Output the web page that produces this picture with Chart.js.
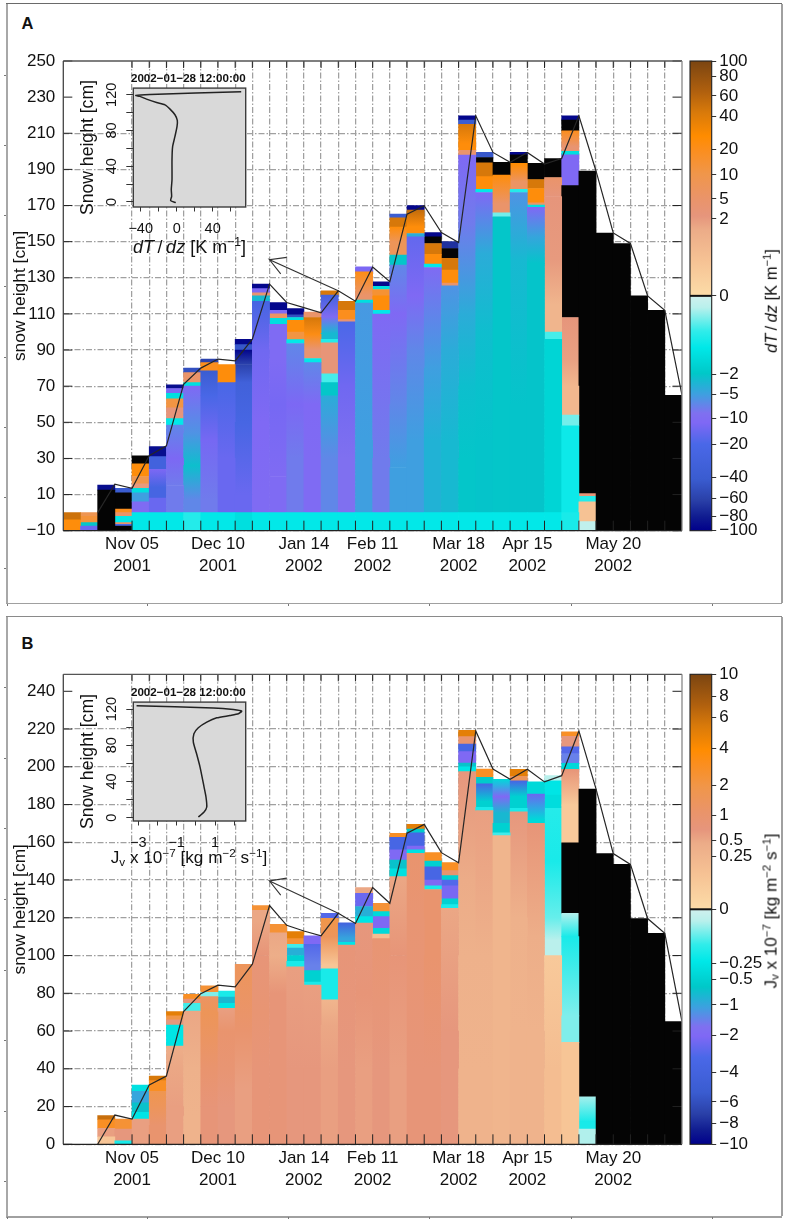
<!DOCTYPE html>
<html><head><meta charset="utf-8">
<style>
html,body{margin:0;padding:0;background:#fff;width:785px;height:1222px;overflow:hidden}
body{position:relative;font-family:"Liberation Sans",Arial,sans-serif;color:#111}
canvas{position:absolute}
.t{position:absolute;white-space:nowrap;line-height:1}
.t sup{font-size:.68em;vertical-align:.55em;line-height:0}
.t sub{font-size:.68em;vertical-align:-.2em;line-height:0}
.r{position:absolute;background:#999}
</style>
<script src="https://cdn.jsdelivr.net/npm/chart.js@4"></script>
</head><body>
<script>
// ---------- shared axis data ----------
const edgeLabelIndex = [4, 9, 14, 18, 23, 27, 32];
const edgeLabels = [["Nov 05","2001"],["Dec 10","2001"],["Jan 14","2002"],["Feb 11","2002"],["Mar 18","2002"],["Apr 15","2002"],["May 20","2002"]];
const yTicksA = [-10,10,30,50,70,90,110,130,150,170,190,210,230,250];
const yTicksB = [0,20,40,60,80,100,120,140,160,180,200,220,240];

// ---------- snow height along the week edges: [edge, height] ----------
const snowLineA = [[2,0],[3,15.7],[4,13.5],[5,31.5],[6,37],[7,71],[8,80],[9,85],[10,84],[11,96],[12,126.5],[13,116.3],[14,113.5],[15,110.6],[16,122.8],[17,117],[18,136],[19,127.8],[20,165.2],[21,169.9],[22,155],[23,149.5],[24,219.7],[25,199.4],[26,193.9],[27,199.4],[28,193],[29,196],[30,219.7],[31,189],[32,154.8],[33,149],[34,120],[35,112],[36,65]];
const snowLineB = [[2,0],[3,15.5],[4,13.4],[5,31.4],[6,36.2],[7,70.3],[8,79.8],[9,84.3],[10,83.4],[11,95.4],[12,126.5],[13,116],[14,113],[15,110.5],[16,122.4],[17,117],[18,136],[19,127.7],[20,164.8],[21,169.5],[22,154.5],[23,149.2],[24,219],[25,198.8],[26,193.4],[27,198.7],[28,192],[29,195.3],[30,219],[31,188.2],[32,154],[33,148.3],[34,119.6],[35,111.8],[36,65]];
const arrowA = [[13,141.3],[12,140],[12.65,132.2],[12,140],[16,122.8]];
const arrowB = [[13,141],[12,139.5],[12.65,132],[12,139.5],[16,122.4]];

// ---------- weekly profiles: each layer is [top height, value]; null = no value (black) ----------
const cellsA = [
 [[-4,25],[0,50]],
 [[-7.5,-15],[-5.5,-2],[-2,14],[0,9]],
 [[12.5,null],[15.3,-90]],
 [[-7.5,null],[-6.5,-20],[-5.5,5],[-2,-1.3],[0,5],[2,20],[11,null],[13.5,-40]],
 [[0,-1.3],[6,-10],[11,-5],[13.4,-1.5],[16,2],[20,10],[27,25],[31.5,null]],
 [[0,-1.3],[8,-15],[14,-25],[24,-12],[31,-30],[36.5,-90]],
 [[0,-1.3],[15,-8],[30,-12],[48.4,-7],[52,-1.3],[58,2.5],[63,12],[66,-1.5],[68.7,-12],[70.7,-90]],
 [[0,-1],[7,-7],[26,-2.5],[44,-6],[70,-11],[72,-1.5],[77.5,5],[80,-50]],
 [[0,-1.3],[7,-8],[40,-13],[65,-22],[78.5,-40],[83,20],[85,-60]],
 [[0,-1.3],[30,-15],[72,-22],[82,25]],
 [[0,-1.5],[10,-15],[50,-24],[72,-32],[82,-60],[90,-95],[93,-45],[96,-95]],
 [[0,-1.3],[10,-10],[50,-11],[90,-14],[117,-25],[120,-3],[121.7,4],[124,-12],[126.5,-95]],
 [[0,-1.3],[20,-10],[60,-13],[85,-10],[104.3,-10],[107.5,-1.5],[110,6],[112,-10],[116.3,-95]],
 [[0,-1.3],[30,-8],[60,-12],[93.6,-7],[95.8,-1.3],[100,12],[106.5,25],[108,-1.5],[109.5,-50],[113,-95]],
 [[0,-1.3],[30,-10],[60,-11],[83,-7],[85.3,-1.3],[90.4,4],[98.7,22],[108,45],[111,5]],
 [[0,-1.3],[30,-7],[64.6,-4],[72,-2],[76.8,-0.8],[94,3],[96,-1],[99.2,-3],[108.4,-10],[120.4,-30],[122.8,45]],
 [[0,-1.3],[30,-9],[70,-14],[105.6,-20],[106.8,4],[112,20],[117,45]],
 [[0,-1.3],[40,-5],[116,-5.5],[117.7,-1.5],[120.4,5],[133.3,22],[136,-12]],
 [[0,-1.3],[30,-8],[109.9,-11],[112,-1.3],[120,25],[123.5,15],[125.3,-1.5],[127.8,-95]],
 [[0,-1.3],[25,-5],[60,-7],[110,-11],[137,-7],[142.5,-2],[150,8],[158,25],[163.2,45],[165.2,-40]],
 [[0,-1.3],[40,-5],[90,-7],[120,-11],[152.7,-16],[154.5,-4],[158.2,25],[167.5,55],[169.9,-95]],
 [[0,-1.3],[40,-3.5],[80,-5],[135.7,-10],[137.6,-1.3],[143,25],[149,45],[152.7,null],[155,-95]],
 [[0,-1.3],[40,-3],[90,-4],[125.5,-6],[127,5],[134.2,25],[140.7,45],[146.2,null],[150,-70]],
 [[0,-1.3],[30,-2],[70,-2.5],[110,-4],[160,-8],[197.9,-11],[200.6,5],[204.3,25],[215,45],[217.3,-40],[219.7,-95]],
 [[0,-1.3],[40,-2.1],[100,-2.6],[143.5,-4],[177.2,-11],[179,-1.3],[186,25],[193.7,45],[196.6,null],[199.4,-45]],
 [[0,-1.3],[163.8,-2],[166,-0.6],[171,5],[186.8,25],[193.9,null]],
 [[0,-1.3],[60,-2.1],[139.8,-3],[177.2,-6],[179,-1],[183,6],[193.3,28],[198,null],[199.4,-95]],
 [[0,-1.3],[138,-2.1],[152.7,-4.5],[169,-11],[170.2,-1.5],[171.5,5],[179.4,25],[184.4,45],[193.3,null]],
 [[0,-1.3],[96,-1.7],[100,-0.8],[115,1.4],[140,2],[175,2.6],[185.5,5],[196,null]],
 [[0,-1.1],[48,-1.2],[54,-0.6],[70,1.3],[85,1.9],[108,2.6],[181,null],[198,-11],[200,-1.5],[202.6,4],[211.4,20],[217.3,null],[219.7,-95]],
 [[-5,-0.2],[6,0.9],[9,-1],[10.5,3],[189,null]],
 [[154.8,null]],
 [[149,null]],
 [[120,null]],
 [[112,null]],
 [[65,null]]
];
const cellsB = [
 [],
 [],
 [[4,0.15],[8.5,0.6],[13,3],[15.2,6]],
 [[1.8,-0.2],[8,0.7],[13.4,2.5]],
 [[13.4,0.6],[17,-0.25],[22,-0.7],[28,-1],[31.4,-0.3]],
 [[10,1],[20,1.5],[28,1.8],[33.7,3],[36.2,5.5]],
 [[20,0.6],[40,0.5],[52,0.4],[63.2,-0.25],[66,0.7],[68,2],[70.3,5]],
 [[15,0.3],[40,0.35],[70.6,0.5],[74.7,-0.15],[77,0.8],[79.5,3]],
 [[20,0.8],[40,1],[70,1.6],[78.2,1.3],[80.5,-0.1],[84,2.5]],
 [[20,0.7],[40,0.9],[60,1],[72,0.6],[74.7,-0.25],[78,-0.8],[81.2,-0.2]],
 [[30,0.6],[60,1],[95.4,1.5]],
 [[40,0.8],[70,0.9],[100,0.8],[118,0.5],[124,0.5],[126.5,2.5]],
 [[40,0.8],[80,0.8],[100,0.4],[112,0.5],[116.5,2.5]],
 [[40,0.7],[94,0.6],[97,-0.2],[100,-0.5],[104,-0.9],[106,-0.15],[109,2.5],[112.7,5]],
 [[40,0.7],[84.4,0.6],[86,-0.2],[92,-0.5],[95,-1.5],[106,-3],[110.4,-2]],
 [[40,0.6],[63,0.5],[76.5,0.25],[93,-0.2],[95,0.15],[110,1.5],[119.7,2],[122.4,-3]],
 [[40,0.7],[105.6,0.8],[107,-0.25],[109,-1],[117.3,-4]],
 [[40,0.6],[80,0.8],[117.2,0.7],[120.6,-0.25],[126,-0.9],[133,-2.5],[136,0.5]],
 [[40,0.7],[109,0.9],[111.4,0.2],[114.4,-0.4],[120.6,-2],[123.3,-0.4],[127.7,2.5]],
 [[40,0.6],[100,0.8],[141.8,0.5],[146,-0.3],[150.6,-0.7],[156,-2],[162.6,-3.5],[164.8,3]],
 [[40,0.8],[120,0.9],[154.2,1],[156,-0.3],[158,-2],[165,-3.5],[167,-0.6],[169.5,5]],
 [[40,0.8],[100,1],[135,1],[137,-0.2],[140,-2],[147,-3.5],[150,-0.5],[154.5,3]],
 [[60,0.7],[125,0.5],[127,-0.2],[130,-0.5],[137,-2.2],[140,-3],[142.3,-0.5],[145,1],[149.2,3]],
 [[40,0.3],[100,0.35],[140,0.45],[197.4,0.7],[200,-0.25],[202,-0.7],[208,-2],[212,-3.5],[216,1],[219.3,5]],
 [[40,0.3],[100,0.35],[176.8,0.6],[178.5,-0.2],[181.5,-0.5],[191,-3.5],[194.4,-0.6],[198.8,3]],
 [[163.5,0.25],[165,-0.15],[170,-0.5],[175.4,-0.8],[184.2,-2],[193.4,-0.4]],
 [[60,0.3],[120,0.35],[176.2,0.7],[178,-0.2],[184.2,-0.5],[192.5,-3.5],[195,1.5],[198.7,5]],
 [[60,0.3],[110,0.4],[170,0.8],[172,-0.4],[185.6,-2.5],[192,-0.4]],
 [[40,0.2],[100,0.12],[108,-0.05],[120,-0.12],[150,-0.2],[178,-0.18],[185,-0.35],[192.5,-0.25],[195.3,-0.05]],
 [[54,0.15],[68,-0.1],[110,-0.2],[122.3,-0.06],[159.7,null],[179.7,0.12],[198.6,0.8],[201.8,-0.4],[207,-1.5],[210.6,-3],[216.2,0.7],[218.5,3]],
 [[8,-0.06],[12,-0.2],[25.2,-0.07],[188.2,null]],
 [[154,null]],
 [[148.3,null]],
 [[119.6,null]],
 [[111.8,null]],
 [[65,null]]
];

// ---------- inset profiles ----------
const insetDate = "2002\u221201\u221228 12:00:00";
const insetGradA = [-1,-6.7,-5.6,-6,-5.2,-5.2,-4.5,-1.9,0.4,0.7,-1.9,-7.4,-13,-22.3,-33.5,-40.9,-45.4,-29.7,71.7];
const insetHeightA = [-0.7,1.5,6.3,14,25,47.3,62,73.4,84.6,91.3,97.7,104,108.8,111.4,115.2,118.2,119.3,120.4,123.4];
const insetFluxB = [0.13,0.43,0.57,0.53,0.43,0.22,0.04,-0.13,-0.10,0.13,0.57,1.09,1.78,2.22,2.39,1.96,0.91,-3.09];
const insetHeightB = [0.7,6.3,11.8,22.8,33.8,55.9,70.6,83.5,92.7,99.3,105.5,110.3,112.9,114.8,117.7,119.5,121.3,123.7];

// ---------- colour bar ticks ----------
const cbarValuesA = [100,80,60,40,20,10,5,2,0,-2,-5,-10,-20,-40,-60,-80,-100];
const cbarValuesB = [10,8,6,4,2,1,0.5,0.25,0,-0.25,-0.5,-1,-2,-4,-6,-8,-10];

// ---------- legend layout and colour ramp (style, not data) ----------
const cbarPosA = [1,.936,.851,.765,.623,.515,.413,.328,0,-.335,-.42,-.523,-.631,-.772,-.862,-.938,-1];
const cbarPosB = [1,.905,.817,.686,.526,.398,.294,.225,0,-.23,-.30,-.407,-.535,-.694,-.82,-.91,-1];
const rampPos = [[0,'#fcdca8'],[.15,'#f6c294'],[.28,'#ecac88'],[.34,'#e6957c'],[.42,'#ea9468'],[.52,'#f0964a'],[.62,'#fb8e1e'],[.68,'#ff8c00'],[.78,'#d97a0a'],[.87,'#b0600e'],[1,'#7b4511']];
const rampNeg = [[0,'#d0f0ee'],[.05,'#b8f0ec'],[.15,'#30ecea'],[.22,'#00e8e8'],[.33,'#00c8c8'],[.42,'#3f9fe0'],[.5,'#7f70f0'],[.54,'#7f68f5'],[.63,'#4a68e8'],[.78,'#3a5cd0'],[.87,'#2a40a8'],[.94,'#101c90'],[1,'#00008b']];
const FONT = '"Liberation Sans", Arial, sans-serif';
const INK = '#111';

function hexRgb(h){return [1,3,5].map(i=>parseInt(h.substr(i,2),16));}
function rampColor(t){
  const r = t>=0?rampPos:rampNeg, a=Math.min(1,Math.abs(t));
  for(let i=1;i<r.length;i++){ if(a<=r[i][0]){
    const f=(a-r[i-1][0])/(r[i][0]-r[i-1][0]), c0=hexRgb(r[i-1][1]), c1=hexRgb(r[i][1]);
    return 'rgb('+c0.map((c,j)=>Math.round(c+(c1[j]-c)*f)).join(',')+')';
  }}
  return r[r.length-1][1];
}
function valueToPos(v,vals,pos){
  if(v>=vals[0])return pos[0];
  for(let i=1;i<vals.length;i++){ if(v>=vals[i]){
    return pos[i]+(pos[i-1]-pos[i])*(v-vals[i])/(vals[i-1]-vals[i]);
  }}
  return pos[pos.length-1];
}
function fmt(v){return String(v).replace('-','\u2212');}

function addCanvas(l,t,w,h){
  const c=document.createElement('canvas');c.width=w;c.height=h;c.style.left=l+'px';c.style.top=t+'px';c.style.width=w+'px';c.style.height=h+'px';
  document.body.appendChild(c);return c;
}
function addText(html,cx,cy,size,rot,bold){
  const d=document.createElement('div');d.className='t';d.innerHTML=html;
  d.style.left=cx+'px';d.style.top=cy+'px';d.style.fontSize=size+'px';
  if(bold)d.style.fontWeight='bold';
  d.style.transform='translate(-50%,-50%)'+(rot?' rotate(-90deg)':'');
  document.body.appendChild(d);
}
function rect(l,t,w,h,c){const d=document.createElement('div');d.className='r';d.style.cssText+=`left:${l}px;top:${t}px;width:${w}px;height:${h}px;background:${c}`;document.body.appendChild(d);}

function panelFrame(top,bottom,leftTicks,topColor){
  rect(6,top,1.5,bottom-top,'#a8a8a8');
  rect(6,top-1,776,1.5,topColor);
  rect(781,top,1.5,bottom-top,'#a0a0a0');
  rect(6,bottom,776,1.5,'#a0a0a0');
  leftTicks.forEach(y=>rect(3.5,y,2.5,1,'#777'));
  [6.7,147,288,429,570.7,712].forEach(x=>rect(x,bottom+1,1,2,'#777'));
}

const markStyle = {
  id:'markStyle',
  afterDatasetsDraw(chart){
    const {ctx,chartArea:a,scales:{x,y}}=chart;
    ctx.save();ctx.strokeStyle='#222';ctx.lineWidth=1;ctx.beginPath();
    for(let e=4;e<=35;e++){const p=x.getPixelForValue(e);
      ctx.moveTo(p,a.bottom);ctx.lineTo(p,a.bottom-10);ctx.moveTo(p,a.top);ctx.lineTo(p,a.top+7);}
    y.ticks.forEach(t=>{const p=y.getPixelForValue(t.value);
      ctx.moveTo(a.left,p);ctx.lineTo(a.left+9,p);ctx.moveTo(a.right,p);ctx.lineTo(a.right-9.5,p);});
    ctx.stroke();
    ctx.lineWidth=1.3;
    ctx.strokeStyle='#555';ctx.beginPath();ctx.moveTo(a.left,a.top);ctx.lineTo(a.right,a.top);ctx.stroke();
    ctx.strokeStyle='#444';ctx.beginPath();ctx.moveTo(a.left,a.top);ctx.lineTo(a.left,a.bottom);ctx.stroke();
    ctx.strokeStyle='#222';ctx.beginPath();ctx.moveTo(a.left,a.bottom);ctx.lineTo(a.right,a.bottom);ctx.stroke();
    ctx.strokeStyle='#888';ctx.beginPath();ctx.moveTo(a.right,a.top);ctx.lineTo(a.right,a.bottom);ctx.stroke();
    ctx.restore();
  }
};

function mainChart(o){
  const c=addCanvas(0,o.top,785,o.height);
  const n=Math.max(...o.cells.map(k=>k.length));
  const col2color=v=>v===null?'#040404':rampColor(valueToPos(v,o.cbVals,o.cbPos));
  const datasets=[];
  for(let k=0;k<n;k++){
    datasets.push({
      type:'bar',order:2,
      data:o.cells.map((col,i)=>({x:i+.5,y:k<col.length?[k?col[k-1][0]:o.floor,col[k][0]]:null})),
      backgroundColor:(ctx)=>{
        const col=o.cells[ctx.dataIndex];
        if(k>=col.length)return 'rgba(0,0,0,0)';
        const v=col[k][1], lo=k?col[k-1]:null;
        // thick layers fade from the value of the layer below, as the profiles vary smoothly
        const stripBelow = lo && lo[0]===0 && o.floor<0;
        if(v===null||!lo||lo[1]===null||lo[1]*v<=0||stripBelow||col[k][0]-lo[0]<8) return col2color(v);
        const y=ctx.chart.scales.y;
        const g=ctx.chart.ctx.createLinearGradient(0,y.getPixelForValue(lo[0]),0,y.getPixelForValue(col[k][0]));
        g.addColorStop(0,col2color(lo[1]));g.addColorStop(1,col2color(v));
        return g;
      },
      borderWidth:0,barPercentage:1,categoryPercentage:1,grouped:false
    });
  }
  datasets.push({type:'line',order:1,data:o.line.map(p=>({x:p[0],y:p[1]})),borderColor:'#262626',borderWidth:1.2,pointRadius:0,tension:0,fill:false});
  datasets.push({type:'line',order:1,data:o.arrow.map(p=>({x:p[0],y:p[1]})),borderColor:'#333',borderWidth:1.1,pointRadius:0,tension:0,fill:false});
  new Chart(c,{type:'bar',data:{datasets},plugins:[markStyle],options:{
    responsive:false,animation:false,
    layout:{padding:{top:o.areaTop,right:785-o.areaRight,left:0,bottom:0}},
    plugins:{legend:{display:false},tooltip:{enabled:false}},
    scales:{
      x:{type:'linear',min:0,max:36,offset:false,
        afterBuildTicks(s){s.ticks=Array.from({length:37},(_,i)=>({value:i}));},
        afterFit(s){s.height=o.height-o.areaBottom;},
        grid:{offset:false,drawTicks:false,color:t=>(t.tick&&t.tick.value>=4&&t.tick.value<=35)?'#a0a0a0':'rgba(0,0,0,0)',lineWidth:1.25},
        border:{display:false,dash:[6,2,1.5,2]},
        ticks:{autoSkip:false,maxRotation:0,minRotation:0,padding:3,color:INK,font:{family:FONT,size:17,lineHeight:1.29},
          callback:v=>{const i=edgeLabelIndex.indexOf(v);return i<0?'':edgeLabels[i];}}
      },
      y:{type:'linear',min:o.ymin,max:o.ymax,
        afterBuildTicks(s){s.ticks=o.yTicks.map(v=>({value:v}));},
        afterFit(s){s.width=o.areaLeft;},
        grid:{drawTicks:false,color:t=>(t.tick&&t.tick.value<=o.gridMax)?'#a0a0a0':'rgba(0,0,0,0)',lineWidth:1.25},
        border:{display:false,dash:[6,2,1.5,2]},
        title:{display:true,text:'snow height [cm]',color:INK,font:{family:FONT,size:17.4},padding:{top:10,bottom:0}},
        ticks:{autoSkip:false,padding:8,color:INK,font:{family:FONT,size:17},callback:v=>fmt(v)}
      }
    }
  }});
}

const insetStyle={id:'insetStyle',
  beforeDatasetsDraw(chart){const {ctx,chartArea:a}=chart;ctx.save();ctx.fillStyle='#d9d9d9';ctx.fillRect(a.left,a.top,a.right-a.left,a.bottom-a.top);ctx.restore();},
  afterDatasetsDraw(chart){const {ctx,chartArea:a}=chart;ctx.save();ctx.strokeStyle='#3c3c3c';ctx.lineWidth=1.4;ctx.strokeRect(a.left,a.top,a.right-a.left,a.bottom-a.top);ctx.restore();}
};
function insetChart(o){
  const left=75,width=229;
  const c=addCanvas(left,o.boxTop-28,width,o.boxBottom-o.boxTop+28+38);
  new Chart(c,{type:'scatter',data:{datasets:[{data:o.xs.map((x,i)=>({x,y:o.ys[i]})),showLine:true,borderColor:'#222',borderWidth:1.5,pointRadius:0,tension:0.2}]},plugins:[insetStyle],options:{
    responsive:false,animation:false,
    layout:{padding:{top:12.5,right:58.3,left:0,bottom:0}},
    plugins:{legend:{display:false},tooltip:{enabled:false},
      title:{display:true,align:'end',text:insetDate,color:'#111',font:{family:FONT,size:11.6,weight:'bold',lineHeight:1},padding:{top:0,bottom:4}}},
    scales:{
      x:{type:'linear',min:o.xmin,max:o.xmax,
        afterBuildTicks(s){s.ticks=o.xTicks.map(v=>({value:v}));},
        afterFit(s){s.height=38;},
        grid:{drawOnChartArea:false,tickLength:4.5,tickColor:'#333'},border:{display:false},
        ticks:{autoSkip:false,maxRotation:0,padding:9,color:INK,font:{family:FONT,size:14.5},callback:v=>o.xLabels.includes(v)?fmt(v):''}
      },
      y:{type:'linear',min:o.ymin,max:o.ymax,
        afterBuildTicks(s){s.ticks=[0,20,40,60,80,100,120].map(v=>({value:v}));},
        afterFit(s){s.width=58.3;},
        grid:{drawOnChartArea:false,tickLength:7,tickColor:'#333'},border:{display:false},
        title:{display:true,text:'Snow height [cm]',color:INK,font:{family:FONT,size:17.6},padding:{top:3,bottom:0}},
        ticks:{autoSkip:false,minRotation:90,maxRotation:90,crossAlign:'center',padding:2,color:INK,font:{family:FONT,size:14.5},callback:v=>[0,40,80,120].includes(v)?String(v):''}
      }
    }
  }});
}

function colorBar(o){
  const c=addCanvas(685,o.top,100,o.height);
  new Chart(c,{type:'bar',data:{labels:['bar'],datasets:[{data:[[-1,1]],borderWidth:0,barPercentage:1,categoryPercentage:1,
    backgroundColor:(k)=>{
      const a=k.chart.chartArea;if(!a)return '#fff';
      const g=k.chart.ctx.createLinearGradient(0,a.top,0,a.bottom);
      for(let i=rampPos.length-1;i>=0;i--)g.addColorStop((1-rampPos[i][0])/2,rampPos[i][1]);
      for(let i=0;i<rampNeg.length;i++)g.addColorStop((1+rampNeg[i][0])/2,rampNeg[i][1]);
      return g;
    }}]},
    plugins:[{id:'cbarFrame',afterDatasetsDraw(ch){const {ctx,chartArea:a,scales:{y}}=ch;ctx.save();
      ctx.strokeStyle='#222';ctx.lineWidth=1.1;ctx.strokeRect(a.left,a.top,a.right-a.left,a.bottom-a.top);
      ctx.lineWidth=2;ctx.strokeStyle='#111';ctx.beginPath();const p=y.getPixelForValue(0);ctx.moveTo(a.left,p);ctx.lineTo(a.right,p);ctx.stroke();ctx.restore();}}],
    options:{responsive:false,animation:false,
      layout:{padding:{top:o.areaTop,bottom:o.height-o.areaBottom,left:5,right:0}},
      plugins:{legend:{display:false},tooltip:{enabled:false}},
      scales:{
        x:{display:false},
        y:{position:'right',min:-1,max:1,
          afterBuildTicks(s){s.ticks=o.pos.map(v=>({value:v}));},
          afterFit(s){s.width=73.3;},
          grid:{drawOnChartArea:false,tickLength:4.5,tickColor:'#333'},border:{display:false},
          ticks:{autoSkip:false,padding:3,color:INK,font:{family:FONT,size:17},
            callback:(v,i)=>fmt(o.vals[i])}
        }
      }
    }});
}

// ---------- page ----------
panelFrame(3.5,602.5,[75,145,215,286,356.7,426.7,497,568],'#6a6a6a');
panelFrame(616.5,1216,[687.3,758,828,899,970,1040,1111,1181],'#8a8a8a');
addText('A',27.5,22.5,16.5,false,true);
addText('B',27.5,642.5,16.5,false,true);

mainChart({top:0,height:610,areaTop:61,areaBottom:530.7,areaLeft:63.3,areaRight:682,ymin:-10,ymax:250,floor:-10,yTicks:yTicksA,gridMax:210,cells:cellsA,line:snowLineA,arrow:arrowA,cbVals:cbarValuesA,cbPos:cbarPosA});
mainChart({top:610,height:612,areaTop:64.3,areaBottom:534.3,areaLeft:63.3,areaRight:682,ymin:0,ymax:249,floor:0,yTicks:yTicksB,gridMax:220,cells:cellsB,line:snowLineB,arrow:arrowB,cbVals:cbarValuesB,cbPos:cbarPosB});

colorBar({top:0,height:610,areaTop:61,areaBottom:530.7,vals:cbarValuesA,pos:cbarPosA});
colorBar({top:610,height:612,areaTop:64.3,areaBottom:534.3,vals:cbarValuesB,pos:cbarPosB});

insetChart({boxTop:88.3,boxBottom:207.3,xs:insetGradA,ys:insetHeightA,xmin:-48.2,xmax:76.7,ymin:-5.6,ymax:127.5,xTicks:[-40,-20,0,20,40,60],xLabels:[-40,0,40]});
insetChart({boxTop:701.7,boxBottom:820.7,xs:insetFluxB,ys:insetHeightB,xmin:-3.26,xmax:2.6,ymin:-3.7,ymax:127.7,xTicks:[-3,-2,-1,0,1,2],xLabels:[-3,-1,1]});

addText('<i>dT</i>&thinsp;/&thinsp;<i>dz</i> [K m<sup>\u22121</sup>]',189.5,246.5,18);
addText('J<sub>v</sub> x 10<sup>\u22127</sup> [kg m<sup>\u22122</sup> s<sup>\u22121</sup>]',189,858,17.2);
addText('<i>dT</i>&thinsp;/&thinsp;<i>dz</i> [K m<sup>\u22121</sup>]',771,301,16.5,true);
addText('J<sub>v</sub> x 10<sup>\u22127</sup> [kg m<sup>\u22122</sup> s<sup>\u22121</sup>]',771,911,17,true);
</script>
</body></html>
